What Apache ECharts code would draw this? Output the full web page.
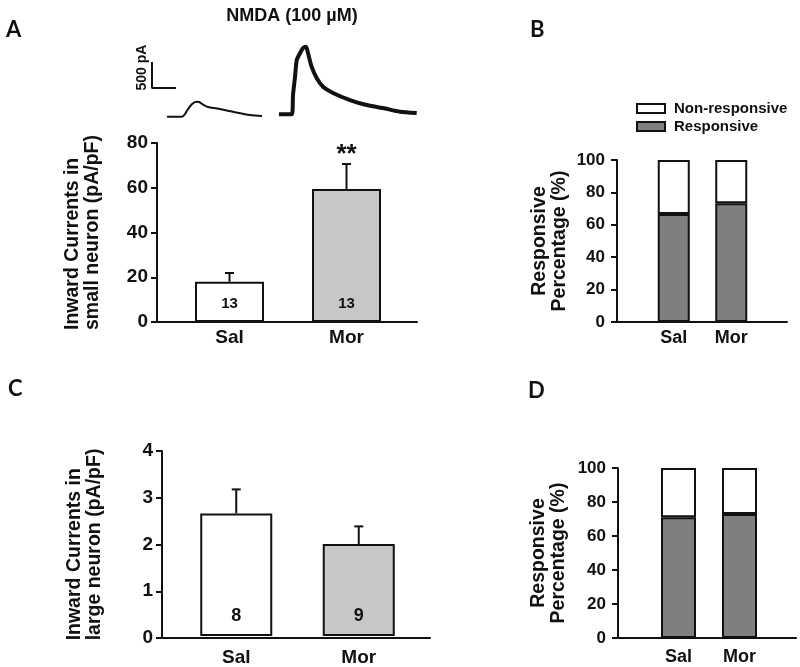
<!DOCTYPE html>
<html>
<head>
<meta charset="utf-8">
<script src="https://cdn.jsdelivr.net/npm/echarts@6/dist/echarts.min.js"></script>
<style>
html,body{margin:0;padding:0;background:#fff;}
#main{width:800px;height:667px;}
</style>
</head>
<body>
<div id="main"></div>
<script>
// ---------- data ----------
const categories = ['Sal', 'Mor'];

// Panel A: inward currents, small neurons (pA/pF)
const meanA = [18, 59.4];
const semA = [3.9, 11.2];
const countA = [13, 13];
const sigA = ['', '**'];
const ticksA = [0, 20, 40, 60, 80];

// Panel A: example NMDA current traces (time s, current pA, inward shown up)
const salTraceT = [11.25, 14.6, 17.5, 18.75, 20, 21.7, 23.3, 24.6, 26.25, 28.3, 32.1, 38.75, 45.8, 50.8];
const salTraceI = [0, 0, 0, 50, 146, 242, 287, 281, 233, 185, 156, 94, 31, 12];
const morTraceT = [57.9, 63.3, 63.75, 64.6, 65.3, 66.7, 67.9, 69.2, 70, 71.5, 73.6, 76.25, 80.4, 87.5, 94.4, 101.25, 108.3, 115.3];
const morTraceI = [44, 44, 415, 767, 1088, 1223, 1319, 1344, 1223, 960, 742, 575, 454, 319, 223, 165, 94, 69];
// scale bar: 500 pA vertical, unlabelled time horizontal
const scaleBarT = [5, 5, 15];
const scaleBarI = [1050, 550, 550];

// Panel B: responsive percentage, small neurons
const respB = [66.7, 73.3];
const nonRespB = [33.3, 26.7];
const ticksB = [0, 20, 40, 60, 80, 100];

// Panel C: inward currents, large neurons (pA/pF)
const meanC = [2.65, 1.99];
const semC = [0.52, 0.38];
const countC = [8, 9];
const sigC = ['', ''];
const ticksC = [0, 1, 2, 3, 4];

// Panel D: responsive percentage, large neurons
const respD = [71, 73];
const nonRespD = [29, 27];
const ticksD = [0, 20, 40, 60, 80, 100];

// ---------- style ----------
const FONT = '"Liberation Sans", Arial, sans-serif';
const INK = '#111';
const barFill = ['#ffffff', '#c8c8c8'];
const respColor = '#7f7f7f';

const chart = echarts.init(document.getElementById('main'), null, {renderer: 'canvas'});

function frameX(gi) {
  return {gridIndex: gi, type: 'value', min: 0, max: 1, show: true,
    axisLine: {show: true, lineStyle: {color: INK, width: 2}},
    axisTick: {show: false}, axisLabel: {show: false}, splitLine: {show: false}};
}
function frameY(gi, ticks, labelSize, tickLen, margin, title, gap, leftAlign) {
  return {gridIndex: gi, type: 'value', min: ticks[0], max: ticks[ticks.length - 1],
    interval: ticks[1] - ticks[0],
    axisLine: {show: true, lineStyle: {color: INK, width: 2}},
    axisTick: {show: true, length: tickLen, lineStyle: {color: INK, width: 2}},
    axisLabel: {color: INK, fontSize: labelSize, fontWeight: 'bold', fontFamily: FONT, margin: margin},
    splitLine: {show: false},
    name: title.map(function (s) { return '{t|' + s + '}'; }).join('\n'),
    nameLocation: 'middle', nameRotate: 90, nameGap: gap,
    nameTextStyle: {rich: {t: {fontSize: 19.5, fontWeight: 'bold', fontFamily: FONT, color: INK,
      lineHeight: 20, align: leftAlign ? 'left' : 'center'}}}};
}
function barX(gi, labelSize, margin) {
  return {gridIndex: gi, type: 'category', data: categories,
    axisLine: {show: false}, axisTick: {show: false}, splitLine: {show: false},
    axisLabel: {color: INK, fontSize: labelSize, fontWeight: 'bold', fontFamily: FONT, margin: margin}};
}
function barY(gi, ticks) {
  return {gridIndex: gi, type: 'value', min: ticks[0], max: ticks[ticks.length - 1], show: false};
}
function meanBars(gi, means, counts, width, countSize, dist) {
  return {type: 'bar', xAxisIndex: gi, yAxisIndex: gi, barWidth: width, z: 3,
    data: means.map(function (v, i) {
      return {value: v, itemStyle: {color: barFill[i], borderColor: INK, borderWidth: 2}};
    }),
    label: {show: true, position: 'insideBottom', distance: dist, color: INK,
      fontSize: countSize, fontWeight: 'bold', fontFamily: FONT,
      formatter: function (p) { return String(counts[p.dataIndex]); }}};
}
function errBars(gi, means, sems, sig) {
  return {type: 'custom', xAxisIndex: gi, yAxisIndex: gi, z: 4,
    data: means.map(function (m, i) { return [i, m, sems[i]]; }),
    renderItem: function (params, api) {
      const x = api.value(0), m = api.value(1), e = api.value(2);
      const p0 = api.coord([x, m]);
      const p1 = api.coord([x, m + e]);
      const st = {stroke: INK, lineWidth: 2};
      const children = [
        {type: 'line', shape: {x1: p0[0], y1: p0[1], x2: p1[0], y2: p1[1]}, style: st},
        {type: 'line', shape: {x1: p1[0] - 4.5, y1: p1[1], x2: p1[0] + 4.5, y2: p1[1]}, style: st}
      ];
      const s = sig[params.dataIndex];
      if (s) {
        children.push({type: 'text', x: p1[0], y: p1[1] + 4,
          style: {text: s, fill: INK, font: 'bold 26px ' + FONT, align: 'center', verticalAlign: 'bottom'}});
      }
      return {type: 'group', children: children};
    }};
}
function stackBars(gi, resp, nonResp, width) {
  const border = {borderColor: INK, borderWidth: 2};
  return [
    {type: 'bar', name: 'Responsive', xAxisIndex: gi, yAxisIndex: gi, stack: 's' + gi, barWidth: width,
      itemStyle: Object.assign({color: respColor}, border), data: resp},
    {type: 'bar', name: 'Non-responsive', xAxisIndex: gi, yAxisIndex: gi, stack: 's' + gi, barWidth: width,
      itemStyle: Object.assign({color: '#ffffff'}, border), data: nonResp}
  ];
}
function zip(a, b) { return a.map(function (v, i) { return [v, b[i]]; }); }

const letterStyle = {fontFamily: 'Lato, "Open Sans", sans-serif', fontWeight: 'bold', fontSize: 22, color: INK};

const option = {
  animation: false,
  backgroundColor: '#ffffff',
  title: [
    {text: 'NMDA (100 µM)', left: 287, top: 2, textAlign: 'center',
      textStyle: {fontFamily: FONT, fontWeight: 'bold', fontSize: 18, color: INK}},
    {text: 'A', left: 1, top: 14, textStyle: letterStyle},
    {text: 'B', left: 525, top: 14, textStyle: letterStyle},
    {text: 'C', left: 3, top: 373, textStyle: letterStyle},
    {text: 'D', left: 523, top: 375, textStyle: letterStyle}
  ],
  legend: {
    data: ['Non-responsive', 'Responsive'],
    orient: 'vertical', left: 631, top: 96, itemWidth: 28, itemHeight: 9, itemGap: 3,
    selectedMode: false, icon: 'rect',
    textStyle: {fontFamily: FONT, fontWeight: 'bold', fontSize: 15, color: INK, lineHeight: 15, padding: [0, 0, 0, 4]}
  },
  graphic: [
    {type: 'text', x: 142, y: 67.5, rotation: Math.PI / 2,
      style: {text: '500 pA', fill: INK, font: 'bold 14px ' + FONT, align: 'center', verticalAlign: 'middle'}}
  ],
  grid: [
    {left: 140, top: 22, width: 288, height: 104},
    {left: 157, top: 143, width: 260, height: 179},
    {left: 171, top: 143, width: 234, height: 179},
    {left: 617, top: 160, width: 170, height: 162},
    {left: 645, top: 160, width: 115, height: 162},
    {left: 162, top: 451, width: 268, height: 187},
    {left: 175, top: 451, width: 245, height: 187},
    {left: 618, top: 468, width: 178, height: 170},
    {left: 648, top: 468, width: 122, height: 170}
  ],
  xAxis: [
    {gridIndex: 0, type: 'value', min: 0, max: 120, show: false},
    frameX(1), barX(2, 19, 6),
    frameX(3), barX(4, 18, 7),
    frameX(5), barX(6, 19, 12),
    frameX(7), barX(8, 18, 10)
  ],
  yAxis: [
    {gridIndex: 0, type: 'value', min: -180, max: 1820, show: false},
    frameY(1, ticksA, 19, 6, 9, ['Inward Currents in', 'small neuron (pA/pF)'], 54, true), barY(2, ticksA),
    frameY(3, ticksB, 17, 6, 12, ['Responsive', 'Percentage (%)'], 47, false), barY(4, ticksB),
    frameY(5, ticksC, 19, 6, 9, ['Inward Currents in', 'large neuron (pA/pF)'], 57, true), barY(6, ticksC),
    frameY(7, ticksD, 17, 6, 12, ['Responsive', 'Percentage (%)'], 49, false), barY(8, ticksD)
  ],
  series: [
    {type: 'line', xAxisIndex: 0, yAxisIndex: 0, data: zip(salTraceT, salTraceI), symbol: 'none',
      smooth: 0.3, lineStyle: {color: INK, width: 2}},
    {type: 'line', xAxisIndex: 0, yAxisIndex: 0, data: zip(morTraceT, morTraceI), symbol: 'none',
      smooth: 0.2, lineStyle: {color: INK, width: 4}},
    {type: 'line', xAxisIndex: 0, yAxisIndex: 0, data: zip(scaleBarT, scaleBarI), symbol: 'none',
      lineStyle: {color: INK, width: 2}},
    meanBars(2, meanA, countA, 69, 15, 11),
    errBars(2, meanA, semA, sigA),
    stackBars(4, respB, nonRespB, 32)[0],
    stackBars(4, respB, nonRespB, 32)[1],
    meanBars(6, meanC, countC, 72, 18, 11),
    errBars(6, meanC, semC, sigC),
    stackBars(8, respD, nonRespD, 35)[0],
    stackBars(8, respD, nonRespD, 35)[1]
  ]
};
chart.setOption(option);
</script>
</body>
</html>
